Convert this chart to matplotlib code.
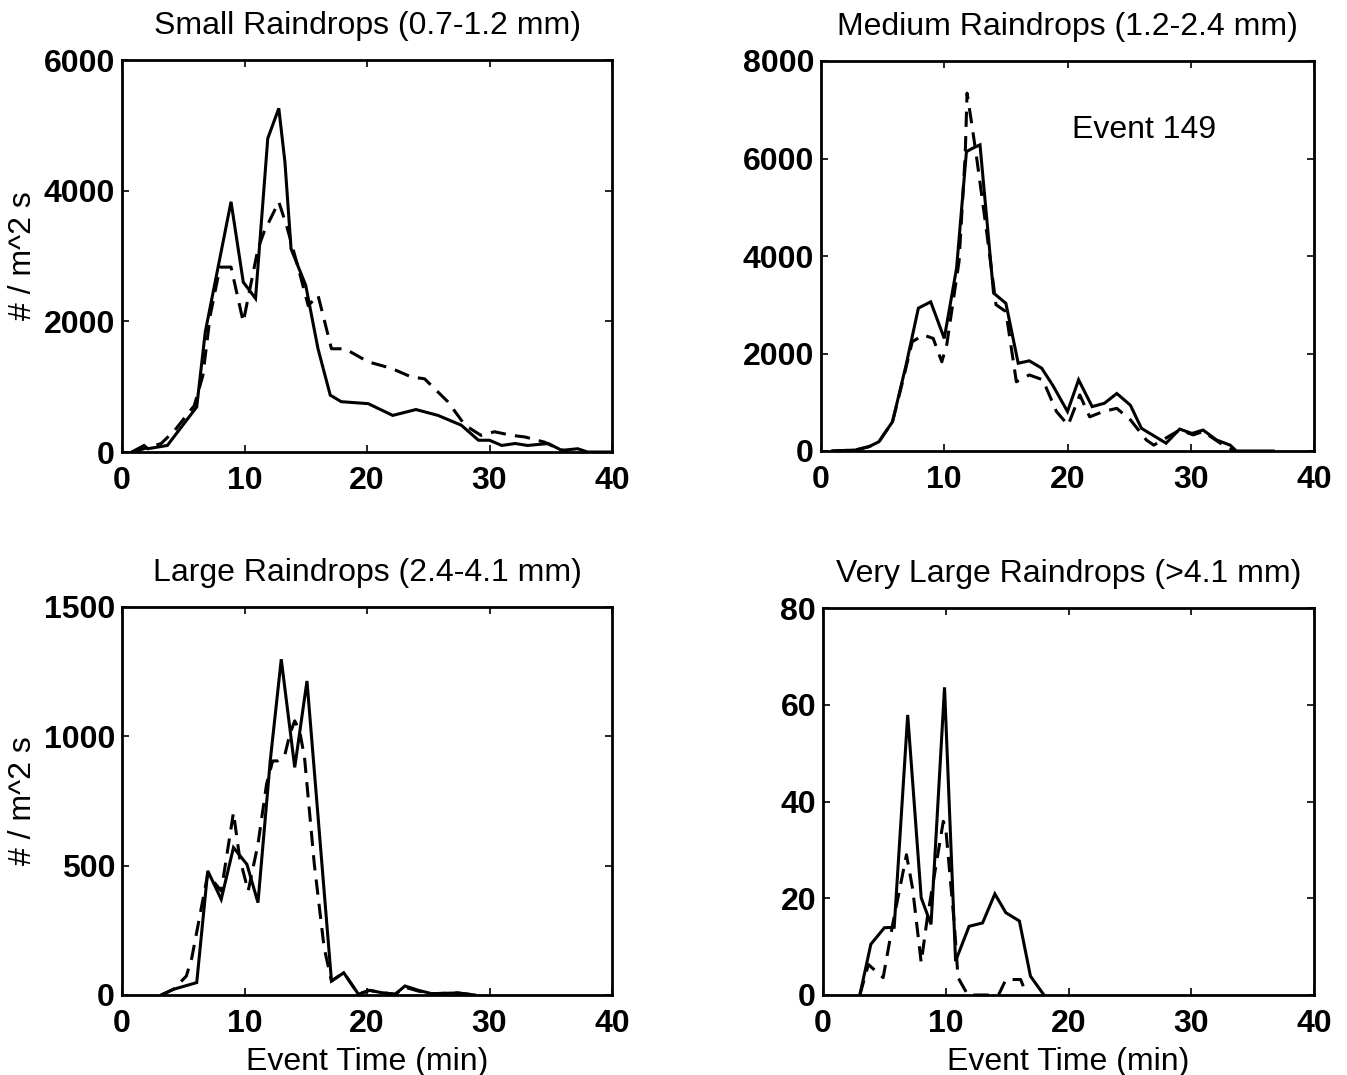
import matplotlib
matplotlib.use("Agg")
import matplotlib.pyplot as plt

plt.rcParams["font.family"] = ["Liberation Sans", "DejaVu Sans"]

# Small raindrops (0.7-1.2 mm)
small_t = [0.8, 1.8, 2.1, 3.7, 6.1, 6.8, 8.9, 9.9, 10.9, 11.9, 12.8, 13.3, 13.8, 15.0,
           16.0, 17.0, 17.9, 20.1, 22.1, 24.0, 25.8, 27.7, 29.1, 30.0, 31.0, 32.1, 33.1,
           34.8, 35.9, 37.2, 38.0, 40.0]
small_solid = [0, 100, 50, 100, 690, 1840, 3830, 2600, 2350, 4800, 5260, 4440, 3110, 2550,
               1580, 870, 770, 740, 560, 650, 560, 410, 180, 180, 100, 130, 100,
               130, 25, 50, 0, 0]
small_dash_t = [0.9, 3.2, 4.3, 5.9, 6.6, 7.2, 8.0, 8.9, 9.9, 11.1, 11.6, 12.8, 13.5, 14.4,
                15.2, 16.0, 17.1, 18.2, 20.1, 22.0, 23.6, 24.7, 26.6, 28.0, 29.3, 30.4,
                31.8, 32.9, 34.5, 35.6, 36.5]
small_dash = [0, 130, 330, 710, 1170, 2090, 2830, 2830, 1990, 3110, 3370, 3830, 3420, 2810,
              2240, 2400, 1580, 1580, 1380, 1280, 1150, 1120, 770, 410, 255, 310,
              255, 230, 150, 50, 0]

# Medium raindrops (1.2-2.4 mm)
med_t = [0.9, 2.8, 3.9, 4.7, 5.8, 6.9, 7.9, 8.9, 10.0, 11.0, 11.8, 12.3, 12.9, 14.0, 15.0,
         16.0, 16.9, 17.9, 18.8, 20.0, 20.9, 22.0, 23.0, 24.0, 25.1, 26.0, 28.0, 29.1,
         30.1, 31.0, 32.1, 33.2, 33.7, 36.7]
med_solid = [0, 20, 90, 190, 600, 1760, 2930, 3060, 2310, 3750, 6140, 6210, 6280, 3240, 3030,
             1800, 1850, 1700, 1350, 810, 1460, 910, 980, 1180, 940, 465, 160, 450,
             360, 430, 225, 120, 0, 0]
med_dash_t = [0.9, 2.8, 3.9, 4.7, 5.8, 6.6, 7.4, 8.3, 9.1, 9.8, 10.2, 11.2, 11.7, 11.85, 12.2,
              12.6, 13.4, 14.2, 15.0, 15.85, 16.9, 18.0, 19.1, 20.05, 21.0, 21.8, 22.9,
              24.0, 25.1, 26.4, 27.0, 29.1, 30.2, 31.0, 32.4, 33.5]
med_dash = [0, 20, 90, 190, 600, 1400, 2240, 2380, 2310, 1830, 2175, 3890, 6070, 7340, 6760,
            6070, 4570, 3000, 2860, 1420, 1560, 1460, 810, 530, 1150, 700, 810,
            875, 640, 225, 120, 430, 330, 400, 160, 0]

# Large raindrops (2.4-4.1 mm)
large_t = [3.2, 4.2, 6.1, 7.0, 8.1, 9.1, 10.2, 11.1, 12.1, 13.0, 14.1, 15.1, 16.1, 17.1,
           18.1, 19.3, 20.2, 21.2, 22.3, 23.1, 24.2, 25.3, 27.4, 28.8]
large_solid = [0, 22, 48, 480, 370, 570, 505, 357, 905, 1298, 880, 1214, 634, 54,
               86, 3, 18, 9, 3, 35, 18, 5, 8, 0]
large_dash_t = [3.2, 4.2, 5.25, 5.7, 7.0, 8.1, 9.1, 9.6, 10.3, 11.1, 11.8, 12.3, 12.7, 13.3,
                13.7, 14.1, 14.5, 14.9, 15.7, 16.5, 17.1, 18.1, 19.3, 20.2, 21.2, 22.3,
                23.1, 24.2, 25.3, 27.4, 28.8]
large_dash = [0, 22, 73, 144, 467, 402, 705, 531, 402, 583, 815, 905, 905, 930,
              1008, 1060, 1021, 918, 505, 183, 54, 86, 3, 18, 9, 3,
              30, 15, 5, 8, 0]

# Very large raindrops (>4.1 mm)
vlarge_t = [3.0, 3.9, 5.0, 5.8, 6.9, 8.0, 8.8, 9.9, 10.8, 11.9, 13.0, 14.0, 14.9, 16.0,
            16.9, 18.0]
vlarge_solid = [0, 10.5, 13.9, 14, 57.9, 20.1, 14.6, 63.6, 7.0, 14.2, 14.9, 20.9, 17, 15.3,
                3.9, 0]
vlarge_dash_t = [3.0, 3.7, 4.9, 5.7, 6.8, 7.3, 8.0, 8.5, 9.8, 10.0, 10.7, 11.0, 11.8, 14.3,
                 14.9, 16.1, 16.6]
vlarge_dash = [0, 6.3, 3.6, 14.9, 29, 22, 6.7, 16, 35.9, 34.5, 14.6, 3.6, 0, 0,
               3.2, 3.2, 0]

W, H = 1347, 1075
fig = plt.figure(figsize=(W / 100, H / 100), dpi=100)


def box(x0, y0, x1, y1):
    return [x0 / W, 1 - y1 / H, (x1 - x0) / W, (y1 - y0) / H]


panels = [
    (box(122, 60, 612, 452), "Small Raindrops (0.7-1.2 mm)", small_t, small_solid,
     small_dash_t, small_dash, 6000, [0, 2000, 4000, 6000]),
    (box(821, 61, 1314, 451), "Medium Raindrops (1.2-2.4 mm)", med_t, med_solid,
     med_dash_t, med_dash, 8000, [0, 2000, 4000, 6000, 8000]),
    (box(122, 607, 612, 995), "Large Raindrops (2.4-4.1 mm)", large_t, large_solid,
     large_dash_t, large_dash, 1500, [0, 500, 1000, 1500]),
    (box(823, 608, 1314, 995), "Very Large Raindrops (>4.1 mm)", vlarge_t, vlarge_solid,
     vlarge_dash_t, vlarge_dash, 80, [0, 20, 40, 60, 80]),
]

axes = []
for rect, title, t1, y1, t2, y2, ymax, yticks in panels:
    ax = fig.add_axes(rect)
    ax.plot(t1, y1, color="black", lw=2.2, solid_joinstyle="miter")
    ax.plot(t2, y2, color="black", lw=2.2, linestyle=(0, (5, 3)))
    ax.set_xlim(0, 40)
    ax.set_ylim(0, ymax)
    ax.set_xticks([0, 10, 20, 30, 40])
    ax.set_yticks(yticks)
    ax.tick_params(direction="in", length=5, width=1.2, top=True, right=True,
                   labelsize=23, pad=5)
    ax.tick_params(axis="x", pad=10)
    for lab in ax.get_xticklabels() + ax.get_yticklabels():
        lab.set_fontweight("bold")
    for sp in ax.spines.values():
        sp.set_linewidth(2.0)
    ax.set_title(title, fontsize=23, pad=19)
    axes.append(ax)

axes[0].set_ylabel("# / m^2 s", fontsize=23, labelpad=4)
axes[2].set_ylabel("# / m^2 s", fontsize=23, labelpad=4)
axes[2].set_xlabel("Event Time (min)", fontsize=23, labelpad=6)
axes[3].set_xlabel("Event Time (min)", fontsize=23, labelpad=6)
axes[1].text(26.2, 6580, "Event 149", fontsize=23, ha="center", va="center")

fig.savefig("out.png", dpi=100)
